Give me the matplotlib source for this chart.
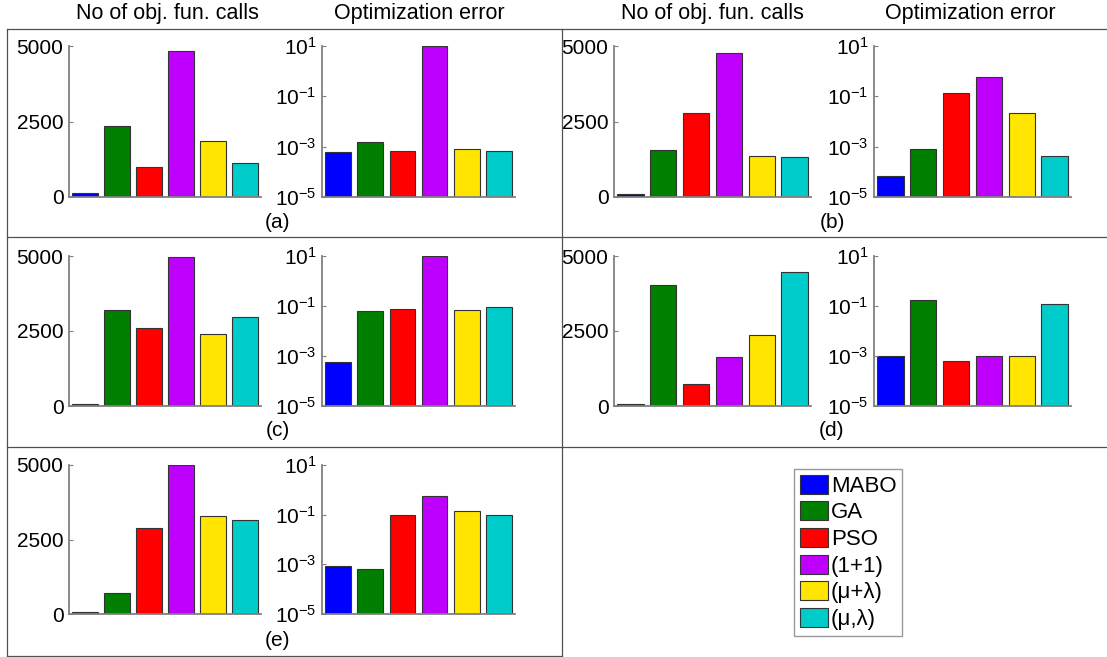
import math
import matplotlib
matplotlib.use("Agg")
import matplotlib.pyplot as plt
from matplotlib.patches import Patch
from matplotlib.lines import Line2D

plt.rcParams['font.family'] = ['Liberation Sans', 'DejaVu Sans']
plt.rcParams['mathtext.fontset'] = 'custom'
plt.rcParams['mathtext.rm'] = 'Liberation Sans'
plt.rcParams['mathtext.default'] = 'regular'

# ---------------- data ----------------
methods = ["MABO", "GA", "PSO", "(1+1)", "(\u03bc+\u03bb)", "(\u03bc,\u03bb)"]
colors = ["#0000FF", "#007F00", "#FF0000", "#BF00FF", "#FFE500", "#00CCCC"]
panel_labels = ["(a)", "(b)", "(c)", "(d)", "(e)"]

calls_a = [143, 2340, 982, 4823, 1843, 1137]
calls_b = [88, 1545, 2792, 4757, 1347, 1313]
calls_c = [78, 3207, 2584, 4978, 2416, 2951]
calls_d = [78, 4035, 720, 1619, 2373, 4468]
calls_e = [67, 694, 2875, 4989, 3289, 3143]

err_a = [6.0e-4, 1.55e-3, 6.8e-4, 9.6, 7.8e-4, 6.5e-4]
err_b = [5.7e-5, 8.1e-4, 0.14, 0.6, 0.022, 4.1e-4]
err_c = [5.6e-4, 0.066, 0.079, 9.6, 0.071, 0.095]
err_d = [9.5e-4, 0.18, 6.0e-4, 9.8e-4, 1.0e-3, 0.115]
err_e = [8.5e-4, 6.4e-4, 0.10, 0.55, 0.14, 0.10]

calls_all = [calls_a, calls_b, calls_c, calls_d, calls_e]
err_all = [err_a, err_b, err_c, err_d, err_e]

calls_ticks = [0, 2500, 5000]
err_ticks = [1e-5, 1e-3, 1e-1, 1e1]
col_titles = ["No of obj. fun. calls", "Optimization error"]

# ---------------- layout (pixels) ----------------
W, H = 1107, 657
fig = plt.figure(figsize=(W / 100, H / 100), dpi=100)

def rect(x0, y0, x1, y1):
    return [x0 / W, 1 - y1 / H, (x1 - x0) / W, (y1 - y0) / H]

rows_y = [(46, 197), (256, 406), (465, 614)]
cols_x = [((69, 261), (322, 515)), ((614, 811), (874, 1071))]
label_pos = [(278, 222), (832, 222), (278, 431), (832, 431), (278, 641)]

spine_col = "#808080"
x = list(range(1, len(methods) + 1))

def style(ax):
    for s in ["top", "right"]:
        ax.spines[s].set_visible(False)
    for s in ["left", "bottom"]:
        ax.spines[s].set_color(spine_col)
        ax.spines[s].set_linewidth(1.3)
    ax.set_xticks([])
    ax.set_xlim(0.5, 6.5)
    ax.tick_params(axis='y', direction='in', length=3, color=spine_col,
                   labelsize=15, pad=4)
    ax.set_facecolor('none')

for i in range(5):
    r, c = divmod(i, 2)
    y0, y1 = rows_y[r]
    (cx0, cx1), (ex0, ex1) = cols_x[c]
    ax1 = fig.add_axes(rect(cx0, y0, cx1, y1))
    ax1.bar(x, calls_all[i], width=0.8, color=colors, edgecolor="#333333",
            linewidth=0.8)
    ax1.set_ylim(0, 5000)
    ax1.set_yticks(calls_ticks)
    ax1.set_yticklabels([str(t) for t in calls_ticks])
    style(ax1)

    ax2 = fig.add_axes(rect(ex0, y0, ex1, y1))
    ax2.bar(x, err_all[i], width=0.8, color=colors, edgecolor="#333333",
            linewidth=0.8, bottom=1e-5)
    ax2.set_yscale('log')
    ax2.set_ylim(1e-5, 1e1)
    ax2.set_yticks(err_ticks)
    ax2.set_yticklabels([r"$10^{%d}$" % round(math.log10(t)) for t in err_ticks])
    ax2.minorticks_off()
    style(ax2)

    lx, ly = label_pos[i]
    fig.text(lx / W, 1 - ly / H, panel_labels[i], ha='center', va='center',
             fontsize=15)

# column titles
for cx, title in [(167, col_titles[0]), (419, col_titles[1]),
                  (712, col_titles[0]), (970, col_titles[1])]:
    fig.text(cx / W, 1 - 14 / H, title, ha='center', va='center', fontsize=15.5)

# panel boxes
box_col = "#505050"
segs = [((7, 29), (1107, 29)), ((7, 237), (1107, 237)), ((7, 447), (1107, 447)),
        ((7, 656), (562, 656)), ((7, 29), (7, 656)), ((562, 29), (562, 656))]
for (xa, ya), (xb, yb) in segs:
    fig.add_artist(Line2D([xa / W, xb / W], [1 - ya / H, 1 - yb / H],
                          transform=fig.transFigure, color=box_col, lw=0.9))

# legend
handles = [Patch(facecolor=col, edgecolor="#333333", linewidth=0.8) for col in colors]
leg = fig.legend(handles, methods, loc='upper left',
                 bbox_to_anchor=(794 / W, 1 - 469 / H), fontsize=16,
                 frameon=True, fancybox=False, edgecolor="#808080",
                 handlelength=1.3, handleheight=0.95, handletextpad=0.12,
                 labelspacing=0.2, borderpad=0.25, borderaxespad=0)
leg.get_frame().set_linewidth(1.0)

fig.savefig("out.png", dpi=100)
